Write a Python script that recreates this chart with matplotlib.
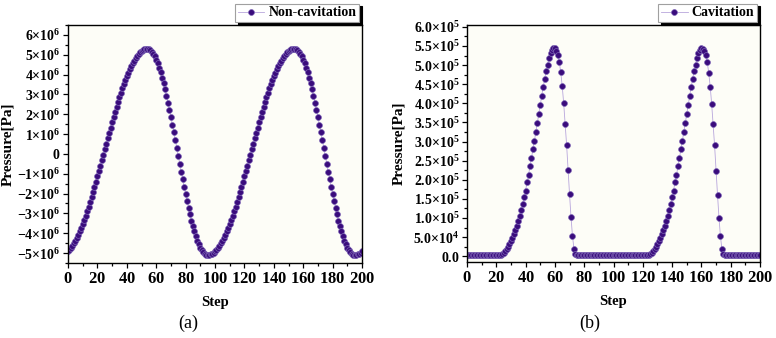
import numpy as np
import matplotlib
matplotlib.use('Agg')
import matplotlib.pyplot as plt
from matplotlib.ticker import MultipleLocator, FuncFormatter

plt.rcParams['font.family'] = ['Liberation Serif', 'DejaVu Serif']
plt.rcParams['mathtext.fontset'] = 'custom'
plt.rcParams['mathtext.rm'] = 'Liberation Serif:bold'
plt.rcParams['mathtext.bf'] = 'Liberation Serif:bold'
plt.rcParams['mathtext.it'] = 'Liberation Serif:bold:italic'

# steps 0..200
steps = np.arange(0, 201)

# (a) non-cavitation pressure, units of 1e6 Pa
p_noncav = [
    -4.92, -4.84, -4.74, -4.64, -4.51, -4.38, -4.23, -4.07, -3.90, -3.72,
    -3.53, -3.33, -3.11, -2.89, -2.66, -2.42, -2.17, -1.92, -1.66, -1.40,
    -1.13, -0.86, -0.59, -0.32, -0.04, 0.24, 0.52, 0.79, 1.06, 1.33,
    1.60, 1.86, 2.12, 2.37, 2.62, 2.86, 3.09, 3.31, 3.53, 3.73,
    3.92, 4.10, 4.27, 4.43, 4.58, 4.71, 4.84, 4.94, 5.04, 5.12,
    5.18, 5.23, 5.27, 5.29, 5.30,
    5.28, 5.24, 5.16, 5.06, 4.92, 4.76, 4.57, 4.35, 4.11, 3.85,
    3.56, 3.25, 2.93, 2.58, 2.23, 1.86, 1.48, 1.09, 0.70, 0.30,
    -0.10, -0.50, -0.89, -1.28, -1.66, -2.03, -2.38, -2.73, -3.05, -3.36,
    -3.65, -3.91, -4.15, -4.37, -4.56, -4.72, -4.86, -4.96, -5.04, -5.08,
    -5.10,
    -5.09, -5.07, -5.03, -4.98, -4.92, -4.84, -4.74, -4.64, -4.51, -4.38,
    -4.23, -4.07, -3.90, -3.72, -3.53, -3.33, -3.11, -2.89, -2.66, -2.42,
    -2.17, -1.92, -1.66, -1.40, -1.13, -0.86, -0.59, -0.32, -0.04, 0.24,
    0.52, 0.79, 1.06, 1.33, 1.60, 1.86, 2.12, 2.37, 2.62, 2.86,
    3.09, 3.31, 3.53, 3.73, 3.92, 4.10, 4.27, 4.43, 4.58, 4.71,
    4.84, 4.94, 5.04, 5.12, 5.18, 5.23, 5.27, 5.29, 5.30,
    5.28, 5.24, 5.16, 5.06, 4.92, 4.76, 4.57, 4.35, 4.11, 3.85,
    3.56, 3.25, 2.93, 2.58, 2.23, 1.86, 1.48, 1.09, 0.70, 0.30,
    -0.10, -0.50, -0.89, -1.28, -1.66, -2.03, -2.38, -2.73, -3.05, -3.36,
    -3.65, -3.91, -4.15, -4.37, -4.56, -4.72, -4.86, -4.96, -5.04, -5.08,
    -5.10,
    -5.09, -5.07, -5.03, -4.98, -4.92,
]

# (b) cavitation pressure, units of 1e5 Pa
p_cav = [
    0.03, 0.03, 0.03, 0.03, 0.03, 0.03, 0.03, 0.03, 0.03, 0.03,
    0.03, 0.03, 0.03, 0.03, 0.03, 0.03, 0.03, 0.03, 0.03, 0.03,
    0.03, 0.03, 0.03,
    0.04, 0.06, 0.09, 0.13, 0.18, 0.24, 0.31, 0.40, 0.48, 0.59,
    0.69, 0.80, 0.93, 1.06, 1.21, 1.36, 1.55, 1.72, 1.94, 2.13,
    2.35, 2.56, 2.80, 3.02, 3.25, 3.49, 3.72, 3.96, 4.20, 4.43,
    4.63, 4.84, 5.01, 5.19, 5.31, 5.40, 5.46, 5.44, 5.38, 5.27,
    5.08, 4.81, 4.45, 4.00, 3.47, 2.91, 2.25, 1.62, 1.02, 0.53,
    0.20, 0.05, 0.03,
    0.03, 0.03, 0.03, 0.03, 0.03, 0.03, 0.03, 0.03, 0.03, 0.03,
    0.03, 0.03, 0.03, 0.03, 0.03, 0.03, 0.03, 0.03, 0.03, 0.03,
    0.03, 0.03, 0.03, 0.03, 0.03, 0.03, 0.03, 0.03, 0.03, 0.03,
    0.03, 0.03, 0.03, 0.03, 0.03, 0.03, 0.03, 0.03, 0.03, 0.03,
    0.03, 0.03, 0.03, 0.03, 0.03, 0.03, 0.03, 0.03,
    0.04, 0.06, 0.09, 0.13, 0.18, 0.24, 0.31, 0.40, 0.48, 0.59,
    0.69, 0.80, 0.93, 1.06, 1.21, 1.36, 1.55, 1.72, 1.94, 2.13,
    2.35, 2.56, 2.80, 3.02, 3.25, 3.49, 3.72, 3.96, 4.20, 4.43,
    4.63, 4.84, 5.01, 5.19, 5.31, 5.40, 5.45, 5.43, 5.37, 5.26,
    5.07, 4.80, 4.44, 3.99, 3.46, 2.90, 2.24, 1.61, 1.01, 0.52,
    0.19, 0.05, 0.03,
    0.03, 0.03, 0.03, 0.03, 0.03, 0.03, 0.03, 0.03, 0.03, 0.03,
    0.03, 0.03, 0.03, 0.03, 0.03, 0.03, 0.03, 0.03, 0.03, 0.03,
    0.03, 0.03, 0.03, 0.03,
]

legend_labels = ['Non-cavitation', 'Cavitation']
captions = ['(a)', '(b)']

face = '#3a0c7c'
edge = '#7c63b4'
line_c = '#b8a6dc'
bg = '#fdfdf7'


def fmt_a(v, pos):
    n = int(round(v / 1e6))
    if n == 0:
        return r'$0$'
    return r'$%d{\times}10^{6}$' % n


def fmt_b(v, pos):
    if abs(v) < 1:
        return r'$0.0$'
    if v < 1e5 - 1:
        return r'$%.1f{\times}10^{4}$' % (v / 1e4)
    return r'$%.1f{\times}10^{5}$' % (v / 1e5)


def style_axes(ax, ylab_x):
    ax.set_facecolor(bg)
    for s in ax.spines.values():
        s.set_linewidth(1.0)
        s.set_color('black')
    ax.tick_params(which='both', direction='out', top=False, right=False,
                   width=0.9)
    ax.tick_params(axis='x', labelsize=12)
    ax.tick_params(axis='y', labelsize=10)
    ax.tick_params(which='major', length=3.5, pad=2)
    ax.tick_params(which='minor', length=2)
    ax.set_xlim(0, 200)
    ax.xaxis.set_major_locator(MultipleLocator(20))
    ax.xaxis.set_minor_locator(MultipleLocator(10))
    ax.xaxis.set_major_formatter(FuncFormatter(lambda v, p: r'$%d$' % v))
    ax.set_xlabel('Step', fontsize=10.5, fontweight='bold', labelpad=7)
    ax.set_ylabel('Pressure[Pa]', fontsize=11, fontweight='bold')
    ax.yaxis.set_label_coords(ylab_x, 0.5)


def add_legend(ax, label):
    leg = ax.legend([ax.lines[0]], [label], loc='lower right',
                    bbox_to_anchor=(1.0, 1.0), borderaxespad=0.2,
                    fancybox=False, frameon=True, handlelength=1.9,
                    handletextpad=0.3, borderpad=0.2, labelspacing=0.2,
                    prop={'weight': 'bold', 'size': 10},
                    shadow={'color': 'black', 'alpha': 1, 'ox': 2, 'oy': -2})
    leg.get_frame().set_edgecolor('#a0a0a0')
    leg.get_frame().set_linewidth(0.8)


fig = plt.figure(figsize=(7.76, 3.38), dpi=100)

ax1 = fig.add_axes([68 / 776, 1 - 263 / 338, 294 / 776, 238 / 338])
ax1.plot(steps, np.array(p_noncav) * 1e6, '-o', color=line_c, lw=0.6,
         ms=4.2, mfc=face, mec=edge, mew=0.5)
style_axes(ax1, (14 - 68) / 294)
ax1.set_ylim(-5.5e6, 6.5e6)
ax1.yaxis.set_major_locator(MultipleLocator(1e6))
ax1.yaxis.set_minor_locator(MultipleLocator(5e5))
ax1.yaxis.set_major_formatter(FuncFormatter(fmt_a))
add_legend(ax1, legend_labels[0])

ax2 = fig.add_axes([467 / 776, 1 - 262 / 338, 293 / 776, 237 / 338])
ax2.plot(steps, np.array(p_cav) * 1e5, '-o', color=line_c, lw=0.6,
         ms=4.2, mfc=face, mec=edge, mew=0.5)
style_axes(ax2, (405 - 467) / 293)
ax2.set_ylim(-1.5e4, 6.05e5)
ax2.yaxis.set_major_locator(MultipleLocator(5e4))
ax2.yaxis.set_minor_locator(MultipleLocator(2.5e4))
ax2.yaxis.set_major_formatter(FuncFormatter(fmt_b))
add_legend(ax2, legend_labels[1])

fig.text(188 / 776, 1 - 323 / 338, captions[0], ha='center', va='center', fontsize=13)
fig.text(590 / 776, 1 - 323 / 338, captions[1], ha='center', va='center', fontsize=13)

fig.savefig('out.png', dpi=100)
